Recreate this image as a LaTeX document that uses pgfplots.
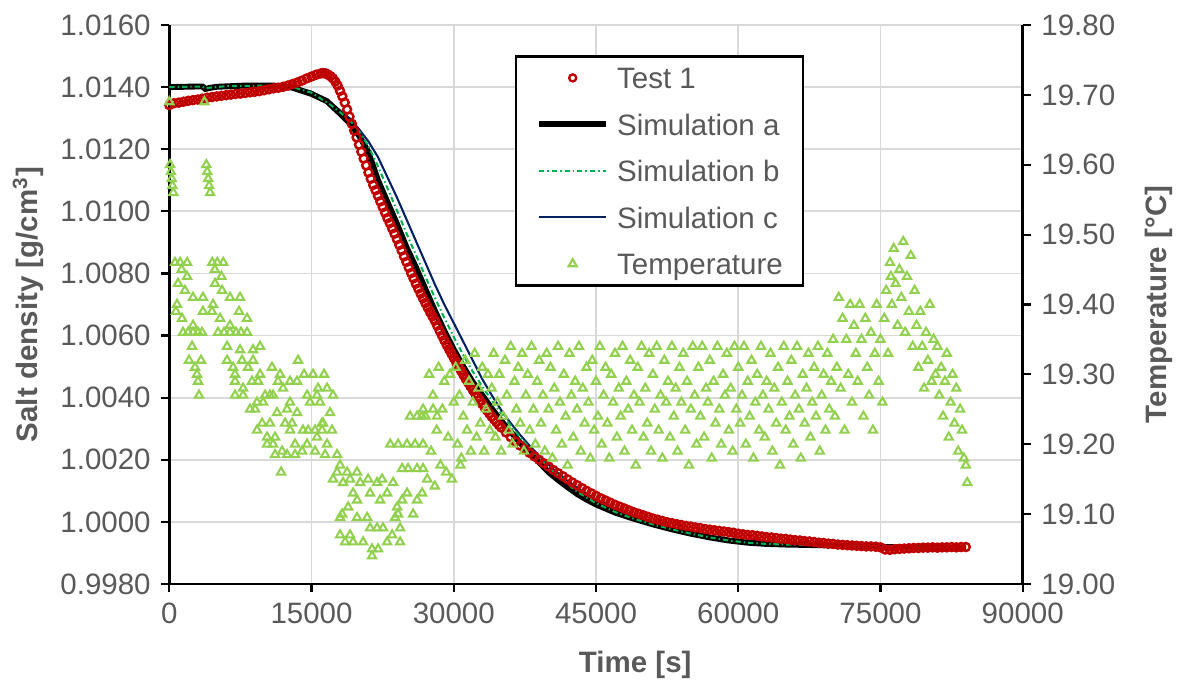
\documentclass[border=0pt]{standalone}
\usepackage{fontspec}
\setmainfont{Liberation Sans}
\usepackage{pgfplots}
\pgfplotsset{compat=1.18}
\definecolor{testred}{HTML}{C00000}
\definecolor{simb}{HTML}{00B050}
\definecolor{simc}{HTML}{002060}
\definecolor{tempgreen}{HTML}{92D050}
\definecolor{textgray}{HTML}{595959}
\definecolor{gridgray}{HTML}{D9D9D9}
\pgfplotsset{
  common/.style={
    scale only axis, width=289.3pt, height=189.5pt,
    xmin=0, xmax=90000,
    scaled x ticks=false, scaled y ticks=false,
    /pgf/number format/assume math mode=true,
    tick align=outside, major tick length=2.8pt,
    tick style={black, line width=0.75pt},
    axis line style={line width=0.9pt, black},
    x axis line style={-}, y axis line style={-},
    tick label style={font=\fontsize{10}{12}\selectfont, text=textgray},
    label style={font=\bfseries\fontsize{10}{12}\selectfont, text=textgray},
  }
}
\begin{document}
\begin{tikzpicture}
\begin{axis}[common, name=ax,
  ymin=0.998, ymax=1.016,
  axis x line*=bottom, axis y line*=left,
  xtick={0,15000,30000,45000,60000,75000,90000},
  ytick={0.998,1.000,1.002,1.004,1.006,1.008,1.010,1.012,1.014,1.016},
  xticklabel style={/pgf/number format/.cd, fixed, precision=0, 1000 sep={}},
  yticklabel style={/pgf/number format/.cd, fixed, fixed zerofill, precision=4},
  grid=major, major grid style={draw=gridgray, line width=0.6pt},
  xlabel={Time [s]}, ylabel={Salt density [g/cm\textsuperscript{3}]},
  xlabel style={at={(axis description cs:0.546,-0.145)}, anchor=center},
  ylabel style={at={(axis description cs:-0.165,0.5)}, anchor=center},
]
% Simulation c
\addplot[simc, line width=0.7pt] table {
0 1.01400
3500 1.01402
3800 1.01395
4200 1.01398
6000 1.01403
10000 1.01405
13000 1.01402
15000 1.01385
17000 1.01350
19000 1.01300
20000 1.01265
21000 1.01225
22000 1.01175
23000 1.01110
24000 1.01045
25000 1.00975
26000 1.00905
27000 1.00835
28000 1.00765
29000 1.00700
30000 1.00640
31000 1.00580
32000 1.00520
33000 1.00460
34000 1.00408
35000 1.00360
36000 1.00318
37000 1.00280
38000 1.00245
39000 1.00213
40000 1.00184
41000 1.00157
42000 1.00132
43000 1.00110
44000 1.00090
45000 1.00073
47000 1.00044
49000 1.00020
51000 1.00000
53000 0.99983
55000 0.99968
57000 0.99955
59000 0.99945
61000 0.99937
63000 0.99931
65000 0.99927
68000 0.99923
72000 0.99920
76000 0.99918
80000 0.99917
84000 0.99917
};
% Simulation a
\addplot[black, line width=2pt] table {
0 1.01400
3000 1.01402
3500 1.01402
3800 1.01394
4200 1.01397
5000 1.01401
8000 1.01405
11000 1.01405
13000 1.01398
15000 1.01378
16600 1.01355
18000 1.01315
19000 1.01285
20000 1.01245
21000 1.01190
22000 1.01100
23000 1.01030
24000 1.00960
25000 1.00885
26000 1.00820
27000 1.00750
28000 1.00680
29000 1.00615
30000 1.00555
31000 1.00500
32000 1.00450
33000 1.00408
34000 1.00365
35000 1.00325
36000 1.00290
37000 1.00255
38000 1.00222
39000 1.00192
40000 1.00160
41000 1.00135
42000 1.00112
43000 1.00090
44000 1.00072
45000 1.00056
47000 1.00030
49000 1.00010
51000 0.99992
53000 0.99976
55000 0.99962
57000 0.99950
59000 0.99940
61000 0.99933
63000 0.99929
65000 0.99927
70000 0.99924
75000 0.99919
80000 0.99917
84000 0.99917
};
% Simulation b
\addplot[simb, line width=0.7pt, dash pattern=on 1.8pt off 1pt on 0.5pt off 1pt] table {
0 1.01400
3500 1.01402
3800 1.01395
4200 1.01398
6000 1.01403
10000 1.01405
13000 1.01400
15000 1.01382
17000 1.01343
19000 1.01295
20000 1.01258
21000 1.01210
22000 1.01145
23000 1.01075
24000 1.01003
25000 1.00930
26000 1.00860
27000 1.00790
28000 1.00722
29000 1.00657
30000 1.00595
31000 1.00537
32000 1.00484
33000 1.00436
34000 1.00391
35000 1.00349
36000 1.00310
37000 1.00273
38000 1.00238
39000 1.00206
40000 1.00176
41000 1.00148
42000 1.00122
43000 1.00098
44000 1.00078
45000 1.00060
47000 1.00032
49000 1.00010
51000 0.99992
53000 0.99976
55000 0.99962
57000 0.99950
59000 0.99940
61000 0.99933
63000 0.99929
65000 0.99927
70000 0.99924
75000 0.99919
80000 0.99917
84000 0.99917
};
% Test 1
\addplot[only marks, mark=o, mark size=1.35pt, mark options={draw=testred, line width=0.85pt}] table {
0 1.01342
500 1.01348
1000 1.01350
1500 1.01353
2000 1.01356
2500 1.01358
3000 1.01360
3500 1.01363
4000 1.01366
4500 1.01368
5000 1.01370
5500 1.01372
6000 1.01374
6500 1.01376
7000 1.01378
7500 1.01379
8000 1.01381
8500 1.01383
9000 1.01385
9500 1.01387
10000 1.01390
10500 1.01393
11000 1.01396
11500 1.01398
12000 1.01401
12500 1.01405
13000 1.01410
13500 1.01415
14000 1.01421
14500 1.01428
15000 1.01434
15500 1.01440
16000 1.01444
16250 1.01445
16500 1.01444
16750 1.01440
17000 1.01435
17250 1.01428
17500 1.01418
17750 1.01405
18000 1.01388
18250 1.01370
18500 1.01350
18750 1.01328
19000 1.01305
19250 1.01282
19500 1.01260
19750 1.01238
20000 1.01215
20250 1.01192
20500 1.01170
20750 1.01148
21000 1.01125
21250 1.01105
21500 1.01085
21750 1.01068
22000 1.01050
22250 1.01032
22500 1.01014
22750 1.00996
23000 1.00978
23250 1.00962
23500 1.00945
23750 1.00928
24000 1.00910
24250 1.00892
24500 1.00874
24750 1.00855
25000 1.00837
25250 1.00819
25500 1.00801
25750 1.00784
26000 1.00767
26250 1.00751
26500 1.00735
26750 1.00720
27000 1.00705
27250 1.00690
27500 1.00676
27750 1.00662
28000 1.00648
28250 1.00632
28500 1.00616
28750 1.00600
29000 1.00585
29250 1.00570
29500 1.00556
29750 1.00542
30000 1.00528
30250 1.00514
30500 1.00500
30750 1.00487
31000 1.00474
31250 1.00461
31500 1.00449
31750 1.00437
32000 1.00425
32250 1.00413
32500 1.00402
32750 1.00391
33000 1.00380
33250 1.00369
33500 1.00359
33750 1.00349
34000 1.00339
34250 1.00330
34500 1.00321
34750 1.00312
35000 1.00304
35500 1.00288
36000 1.00273
36500 1.00259
37000 1.00246
37500 1.00234
38000 1.00222
38500 1.00211
39000 1.00200
39500 1.00189
40000 1.00178
40500 1.00167
41000 1.00157
41500 1.00147
42000 1.00137
42500 1.00127
43000 1.00118
43500 1.00109
44000 1.00100
44500 1.00092
45000 1.00084
45500 1.00076
46000 1.00069
46500 1.00062
47000 1.00055
47500 1.00049
48000 1.00043
48500 1.00037
49000 1.00031
49500 1.00026
50000 1.00021
50500 1.00016
51000 1.00011
51500 1.00007
52000 1.00003
52500 0.99999
53000 0.99996
53500 0.99993
54000 0.99990
54500 0.99987
55000 0.99985
55500 0.99982
56000 0.99980
56500 0.99977
57000 0.99975
57500 0.99973
58000 0.99971
58500 0.99969
59000 0.99967
59500 0.99965
60000 0.99962
60500 0.99960
61000 0.99958
61500 0.99957
62000 0.99955
62500 0.99953
63000 0.99951
63500 0.99950
64000 0.99948
64500 0.99946
65000 0.99945
65500 0.99943
66000 0.99941
66500 0.99940
67000 0.99938
67500 0.99937
68000 0.99935
68500 0.99933
69000 0.99932
69500 0.99930
70000 0.99929
70500 0.99927
71000 0.99926
71500 0.99925
72000 0.99924
72500 0.99923
73000 0.99922
73500 0.99921
74000 0.99921
74500 0.99920
75000 0.99918
75500 0.99911
76000 0.99910
76500 0.99912
77000 0.99913
77500 0.99914
78000 0.99915
78500 0.99916
79000 0.99916
79500 0.99917
80000 0.99917
80500 0.99918
81000 0.99917
81500 0.99918
82000 0.99918
82500 0.99919
83000 0.99918
83500 0.99919
84000 0.99919
};
\end{axis}
\begin{axis}[common,
  ymin=19, ymax=19.8,
  axis x line=none, axis y line*=right,
  ytick={19,19.1,19.2,19.3,19.4,19.5,19.6,19.7,19.8},
  yticklabel style={/pgf/number format/.cd, fixed, fixed zerofill, precision=2},
  ylabel={Temperature [°C]},
  ylabel style={at={(axis description cs:1.160,0.5)}, anchor=center, rotate=0},
  legend image code/.code={\draw[mark repeat=2,mark phase=2,#1] plot coordinates {(0cm,0cm) (0.4cm,0cm) (0.8cm,0cm)};},
  legend cell align=left,
  legend style={at={(0.405,0.946)}, anchor=north west, draw=black, line width=0.8pt, fill=white,
    font=\fontsize{10}{12}\selectfont, text=textgray,
    inner xsep=6.8pt, inner ysep=3.7pt, row sep=8.56pt, column sep=2.7pt,
    nodes={inner sep=0pt, text height=7.2pt, text depth=0pt}},
]
\addlegendimage{only marks, mark=o, mark size=1.2pt, mark options={draw=testred, line width=0.8pt}}
\addlegendentry{Test 1}
\addlegendimage{black, line width=2pt}
\addlegendentry{Simulation a}
\addlegendimage{simb, line width=0.7pt, dash pattern=on 1.8pt off 1pt on 0.5pt off 1pt}
\addlegendentry{Simulation b}
\addlegendimage{simc, line width=0.7pt}
\addlegendentry{Simulation c}
\addplot[only marks, mark=triangle, mark size=1.6pt, mark options={draw=tempgreen, line width=0.7pt}] table {
0 19.69
80 19.60
170 19.59
250 19.58
330 19.57
420 19.56
3700 19.69
3900 19.60
4000 19.59
4100 19.58
4200 19.57
4300 19.56
600 19.46
1140 19.46
1880 19.46
4530 19.46
5060 19.46
5690 19.46
1300 19.45
4800 19.45
1880 19.44
5500 19.44
920 19.43
4820 19.43
1650 19.42
5560 19.42
2500 19.41
3550 19.41
6400 19.41
7460 19.41
810 19.40
4610 19.40
700 19.39
3550 19.39
4500 19.39
7350 19.39
1340 19.38
5350 19.38
8200 19.38
2500 19.37
6400 19.37
1450 19.36
1970 19.36
2500 19.36
3030 19.36
3450 19.36
5140 19.36
5770 19.36
6400 19.36
7040 19.36
7560 19.36
8200 19.36
2400 19.34
6090 19.34
9570 19.34
7460 19.335
8830 19.335
2080 19.32
3340 19.32
6090 19.32
7670 19.32
8830 19.32
13580 19.32
2710 19.31
6720 19.31
8300 19.31
10830 19.31
2920 19.30
6930 19.30
9570 19.30
11680 19.30
14210 19.30
15160 19.30
16320 19.30
3030 19.29
6930 19.29
8720 19.29
9360 19.29
11470 19.29
12730 19.29
13470 19.29
7780 19.28
12000 19.28
15690 19.28
16640 19.28
3130 19.27
6930 19.27
7780 19.27
10100 19.27
10620 19.27
10940 19.27
14530 19.27
15580 19.27
17270 19.27
9250 19.26
9890 19.26
12730 19.26
14840 19.26
15900 19.26
8510 19.25
9040 19.25
12420 19.25
11360 19.245
13470 19.245
16950 19.245
9780 19.23
10620 19.23
12210 19.23
12950 19.23
16110 19.23
16220 19.23
9250 19.22
12730 19.22
14100 19.22
14640 19.22
15370 19.22
16110 19.22
17160 19.22
10310 19.21
11150 19.21
15580 19.21
10310 19.20
10940 19.20
13260 19.20
14530 19.20
16640 19.20
11890 19.19
14000 19.19
15370 19.19
11150 19.185
12420 19.185
13260 19.185
16430 19.185
17690 19.185
18010 19.17
11790 19.16
17690 19.16
18750 19.16
19800 19.16
17270 19.15
19060 19.15
20960 19.15
22440 19.15
18330 19.145
20120 19.145
21910 19.145
23600 19.145
19380 19.13
21170 19.13
22970 19.13
25070 19.13
26660 19.13
19800 19.12
22230 19.12
24550 19.12
26130 19.12
18860 19.11
24030 19.11
18220 19.10
24130 19.10
25710 19.10
18010 19.095
19800 19.095
20860 19.095
23810 19.095
21170 19.08
21910 19.08
22540 19.08
24340 19.08
18010 19.07
19060 19.07
23500 19.07
18540 19.06
19380 19.06
20440 19.06
22970 19.06
24340 19.06
21380 19.05
22020 19.05
21380 19.04
23300 19.20
24130 19.20
25070 19.20
25920 19.20
26760 19.20
24550 19.165
25180 19.165
26130 19.165
26760 19.165
25390 19.24
26130 19.24
26660 19.24
28240 19.24
26760 19.25
27820 19.25
27000 19.24
27200 19.15
27400 19.30
27600 19.19
27800 19.27
28000 19.14
28200 19.22
28400 19.31
28600 19.17
28800 19.25
29000 19.29
29200 19.16
29400 19.21
29600 19.30
29800 19.15
30000 19.26
30200 19.31
30400 19.20
30600 19.27
30700 19.17
30800 19.18
31000 19.24
31200 19.32
31400 19.22
31600 19.29
31800 19.19
32000 19.26
32200 19.33
32400 19.21
32600 19.28
32800 19.23
33000 19.31
33200 19.19
33400 19.25
33600 19.30
33800 19.22
34000 19.28
34200 19.33
34400 19.21
34600 19.26
34800 19.30
35000 19.19
35200 19.24
35400 19.32
35600 19.27
35800 19.22
36000 19.34
36200 19.20
36400 19.29
36600 19.25
36800 19.31
37000 19.23
37200 19.33
37400 19.19
37600 19.27
37800 19.30
38000 19.22
38200 19.34
38400 19.25
38600 19.20
38800 19.29
39000 19.32
39200 19.23
39400 19.27
39600 19.19
39800 19.33
40000 19.25
40200 19.31
40400 19.18
40600 19.28
40800 19.22
41000 19.34
41200 19.26
41400 19.20
41600 19.30
41800 19.24
42000 19.17
42200 19.33
42400 19.27
42600 19.21
42800 19.29
43000 19.25
43200 19.34
43400 19.19
43600 19.28
43800 19.23
44000 19.31
44200 19.26
44400 19.18
44600 19.32
44800 19.22
45000 19.29
45200 19.24
45400 19.34
45600 19.20
45800 19.27
46000 19.31
46200 19.23
46400 19.18
46600 19.30
46800 19.26
47000 19.33
47200 19.21
47400 19.28
47600 19.24
47800 19.34
48000 19.19
48200 19.29
48400 19.25
48600 19.32
48800 19.22
49000 19.27
49200 19.17
49400 19.31
49600 19.26
49800 19.34
50000 19.21
50200 19.28
50400 19.23
50600 19.33
50800 19.19
51000 19.30
51200 19.25
51400 19.34
51600 19.22
51800 19.27
52000 19.18
52200 19.32
52400 19.26
52600 19.29
52800 19.21
53000 19.34
53200 19.24
53400 19.28
53600 19.19
53800 19.31
54000 19.26
54200 19.33
54400 19.22
54600 19.29
54800 19.17
55000 19.25
55200 19.34
55400 19.27
55600 19.20
55800 19.31
56000 19.24
56200 19.34
56400 19.21
56600 19.28
56800 19.26
57000 19.32
57200 19.18
57400 19.29
57600 19.23
57800 19.34
58000 19.25
58200 19.20
58400 19.30
58600 19.27
58800 19.33
59000 19.22
59200 19.28
59400 19.19
59600 19.34
59800 19.25
60000 19.31
60200 19.23
60400 19.27
60600 19.34
60800 19.20
61000 19.29
61200 19.24
61400 19.32
61600 19.18
61800 19.26
62000 19.30
62200 19.22
62400 19.34
62600 19.27
62800 19.21
63000 19.29
63200 19.25
63400 19.33
63600 19.19
63800 19.28
64000 19.23
64200 19.31
64400 19.17
64600 19.26
64800 19.34
65000 19.22
65200 19.29
65400 19.24
65600 19.32
65800 19.20
66000 19.27
66200 19.34
66400 19.25
66600 19.18
66800 19.30
67000 19.23
67200 19.28
67400 19.33
67600 19.21
67800 19.26
68000 19.31
68200 19.24
68400 19.34
68600 19.19
68800 19.27
69000 19.30
69200 19.22
69400 19.33
69600 19.25
69800 19.29
70000 19.35
70200 19.24
70400 19.31
70600 19.41
70800 19.28
71000 19.38
71200 19.22
71400 19.35
71600 19.30
71800 19.40
72000 19.26
72200 19.37
72400 19.33
72600 19.29
72800 19.40
73000 19.35
73200 19.24
73400 19.38
73600 19.31
73800 19.27
74000 19.36
74200 19.22
74400 19.33
74600 19.40
74800 19.29
75000 19.35
75200 19.26
75400 19.38
75600 19.42
75800 19.33
76000 19.46
76100 19.44
76200 19.40
76400 19.48
76600 19.43
76800 19.37
77000 19.45
77200 19.41
77400 19.49
77600 19.36
77800 19.44
78000 19.39
78200 19.47
78400 19.34
78600 19.42
78800 19.37
79000 19.31
79200 19.39
79400 19.34
79600 19.28
79800 19.36
80000 19.32
80200 19.40
80400 19.29
80600 19.35
80800 19.30
81000 19.34
81200 19.27
81400 19.31
81600 19.24
81800 19.29
82000 19.33
82200 19.21
82400 19.26
82600 19.30
82800 19.23
83000 19.28
83200 19.19
83400 19.25
83600 19.22
83800 19.18
84000 19.17
84150 19.145
};
\addlegendentry{Temperature}
\end{axis}
\pgfresetboundingbox
\path ([shift={(-57.4pt,-35.25pt)}]ax.south west) rectangle ([shift={(54pt,8.47pt)}]ax.north east);
\end{tikzpicture}
\end{document}
